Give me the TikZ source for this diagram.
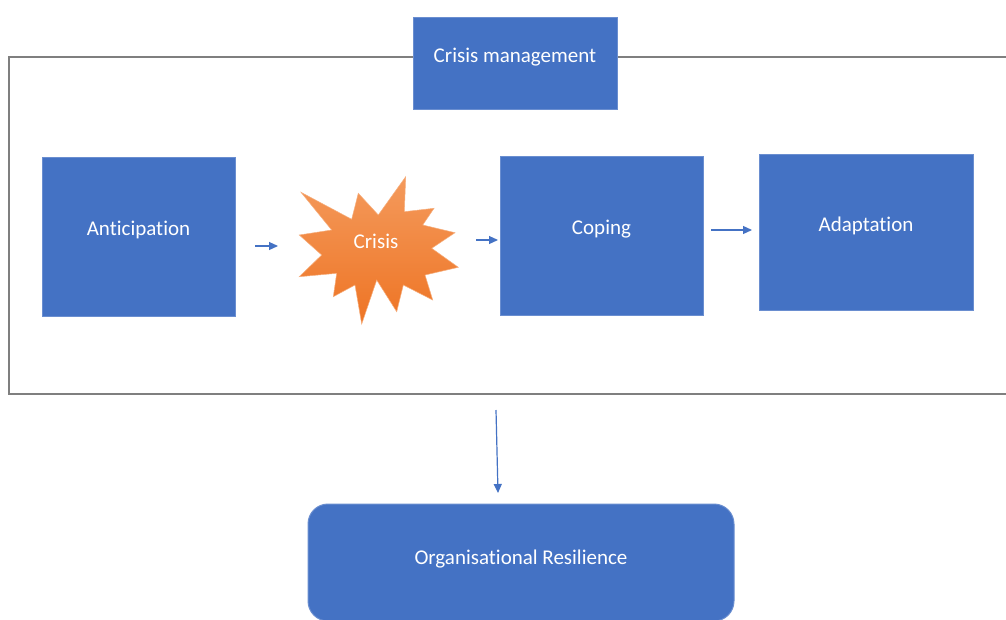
\documentclass[tikz,border=0pt]{standalone}
\usepackage{fontspec}
\setmainfont{Carlito}[Ligatures=NoCommon]
\usetikzlibrary{arrows.meta}
\definecolor{boxblue}{HTML}{4472C4}
\definecolor{boxedge}{HTML}{6A8ED0}
\definecolor{framegray}{HTML}{7F7F7F}
\definecolor{burstTop}{HTML}{F49A5C}
\definecolor{burstBot}{HTML}{EE7424}
\definecolor{arrowblue}{HTML}{4472C4}
\tikzset{
  bluebox/.style={fill=boxblue, draw=boxedge, line width=1pt, inner sep=0pt,
    text=white, font=\fontsize{21}{25}\selectfont, text height=11pt, text depth=13pt},
  flowarrow/.style={draw=arrowblue, line width=1.2pt, -{Triangle[length=9pt,width=8pt]}},
}
\begin{document}
\begin{tikzpicture}[x=1pt,y=-1pt]
\clip (0,0) rectangle (1006,619);
\fill[white] (0,0) rectangle (1006,619);
% outer frame (right side runs off the picture)
\draw[framegray, line width=2pt] (1030,57) -- (9,57) -- (9,394) -- (1030,394);
% boxes
\node[bluebox, minimum width=204pt, minimum height=92pt] (cm) at (515,63) {Crisis management};
\node[bluebox, minimum width=193pt, minimum height=159pt] (antic) at (138.5,236.5) {Anticipation};
\node[bluebox, minimum width=203pt, minimum height=159pt] (coping) at (601.5,235.5) {Coping};
\node[bluebox, minimum width=214pt, minimum height=156pt] (adapt) at (866,232) {Adaptation};
\node[bluebox, rounded corners=20pt, minimum width=426pt, minimum height=117pt,
  text height=13pt, text depth=9pt] (res) at (521,562.5) {Organisational Resilience};
% crisis starburst
\shade[top color=burstTop, bottom color=burstBot, draw=burstTop!80!white, line width=0.5pt]
  (301,192.3) -- (351.7,219.3) -- (358.3,193.3) -- (378.3,215) -- (405.7,176.7) --
  (404.3,211.7) -- (434,208.3) -- (422.7,225) -- (455,232.7) -- (431.7,248.3) --
  (458.3,267.3) -- (425,275) -- (432.7,300) -- (403.3,285) -- (396.7,311.7) --
  (376.7,280) -- (361.7,324) -- (355,285) -- (333.3,296.7) -- (336.7,273.3) --
  (299.3,276.7) -- (321.7,255) -- (299.3,235) -- (331.7,230) -- cycle;
\node[text=white, font=\fontsize{21}{25}\selectfont, inner sep=0pt] (crisis) at (376,241) {Crisis};
% arrow end points
\coordinate (a1s) at (255,246); \coordinate (a1e) at (278,246);
\coordinate (a2s) at (476,240); \coordinate (a2e) at (498,240);
\coordinate (a3s) at (711,230); \coordinate (a3e) at (752,230);
\coordinate (dns) at (496,410); \coordinate (dne) at (498,493);
\draw[flowarrow] (a1s) -- (a1e);
\draw[flowarrow] (a2s) -- (a2e);
\draw[flowarrow] (a3s) -- (a3e);
\draw[flowarrow] (dns) -- (dne);
\end{tikzpicture}
\end{document}
